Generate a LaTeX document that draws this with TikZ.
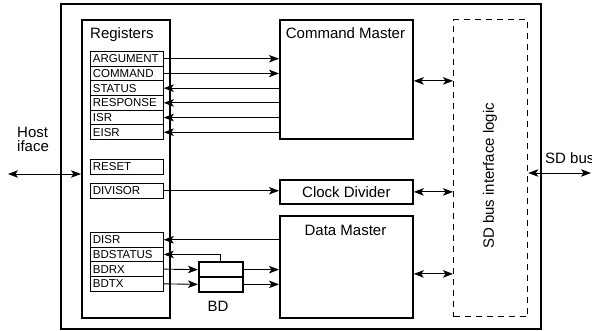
\documentclass[tikz,border=0pt]{standalone}
\usepackage{fontspec}
\setmainfont{Liberation Sans}
\usetikzlibrary{arrows.meta}
\begin{document}
\begin{tikzpicture}[x=1pt,y=-1pt,
 thickbox/.style={draw, line width=1.8pt, inner sep=0pt, anchor=north west},
 reg/.style={draw, line width=0.8pt, anchor=north west, minimum height=14.7pt, text width=68pt, inner xsep=2.5pt, inner ysep=0pt, font=\fontsize{11.5}{12}\selectfont, align=left},
 lbl/.style={font=\fontsize{15}{14.5}\selectfont, inner sep=0pt},
 arr/.style={line width=0.9pt, -{Stealth[length=10pt,width=7.5pt,inset=2.5pt]}},
 darr/.style={line width=0.9pt, {Stealth[length=10pt,width=7.5pt,inset=2.5pt]}-{Stealth[length=10pt,width=7.5pt,inset=2.5pt]}}]
\useasboundingbox (0,0) rectangle (592,331);
% frames
\node[thickbox, minimum width=480pt, minimum height=325pt] (outer) at (60,3) {};
\node[thickbox, minimum width=88pt, minimum height=298pt] (regs) at (81,19) {};
\node[lbl, anchor=base west] (regtitle) at (90,39) {Registers};
\node[thickbox, minimum width=133pt, minimum height=119pt] (cm) at (279,19) {};
\node[lbl, anchor=base] (cmtitle) at (345.5,39) {Command Master};
\node[thickbox, minimum width=133pt, minimum height=24pt, font=\fontsize{15}{17}\selectfont] (cd) at (279,179) {Clock Divider};
\node[thickbox, minimum width=133pt, minimum height=102pt] (dm) at (279,215) {};
\node[lbl, anchor=base] (dmtitle) at (345.5,236) {Data Master};
\node[draw, line width=1.3pt, dash pattern=on 6pt off 5pt, inner sep=0pt, anchor=north west, minimum width=74pt, minimum height=297pt] (sd) at (453,19) {};
\node[lbl, rotate=90] (sdtitle) at (490,176) {SD bus interface logic};
% registers
\node[reg] (arg) at (90,51) {ARGUMENT};
\node[reg] (cmd) at (90,65.7) {COMMAND};
\node[reg] (st) at (90,80.4) {STATUS};
\node[reg] (resp) at (90,95.1) {RESPONSE};
\node[reg] (isr) at (90,109.8) {ISR};
\node[reg] (eisr) at (90,124.5) {EISR};
\node[reg] (reset) at (90,159) {RESET};
\node[reg] (div) at (90,183) {DIVISOR};
\node[reg] (disr) at (90,232) {DISR};
\node[reg] (bdst) at (90,246.7) {BDSTATUS};
\node[reg] (bdrx) at (90,261.4) {BDRX};
\node[reg] (bdtx) at (90,276.1) {BDTX};
% BD
\node[thickbox, minimum width=44pt, minimum height=14.7pt] (bdA) at (198,261.4) {};
\node[thickbox, minimum width=44pt, minimum height=14.7pt] (bdB) at (198,276.1) {};
\node[lbl, anchor=base] (bdlbl) at (218,312) {BD};
% labels
\node[lbl, align=left, anchor=base west] (host) at (17,152) {Host\\iface};
\node[lbl, anchor=base west] (sdbus) at (545,164) {SD bus};
% connectors
\draw[arr] (arg.east) -- (arg.east -| cm.west);
\draw[arr] (cmd.east) -- (cmd.east -| cm.west);
\draw[arr] (cm.west |- st.east) -- (st.east);
\draw[arr] (cm.west |- resp.east) -- (resp.east);
\draw[arr] (cm.west |- isr.east) -- (isr.east);
\draw[arr] (cm.west |- eisr.east) -- (eisr.east);
\draw[arr] (div.east) -- (div.east -| cd.west);
\draw[arr] (dm.west |- disr.east) -- (disr.east);
\draw[arr] (bdA.north) |- (bdst.east);
\draw[arr] (bdrx.east) -- (bdA.west);
\draw[arr] (bdtx.east) -- (bdB.west);
\draw[arr] (bdA.east) -- (bdA.east -| dm.west);
\draw[arr] (bdB.east) -- (bdB.east -| dm.west);
\draw[darr] ([yshift=-1.5pt]cm.east) -- ([yshift=-1.5pt]cm.east -| sd.west);
\draw[darr] (cd.east) -- (cd.east -| sd.west);
\draw[darr] ([yshift=-7pt]dm.east) -- ([yshift=-7pt]dm.east -| sd.west);
\coordinate (hostend) at (8,174);
\draw[darr] (hostend) -- (hostend -| regs.west);
\coordinate (sdend) at (591,173);
\draw[darr] (sdend -| sd.east) -- (sdend);
\end{tikzpicture}
\end{document}
